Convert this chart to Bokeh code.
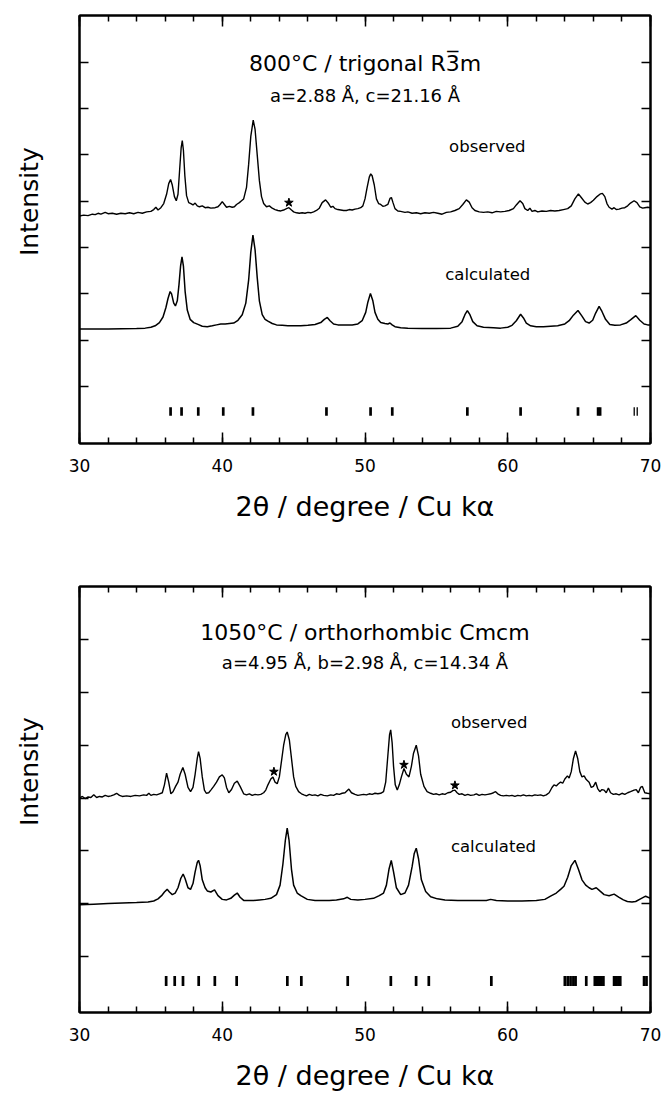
import numpy as np
from bokeh.plotting import figure
from bokeh.layouts import column
from bokeh.models import FixedTicker, LinearAxis
from bokeh.core.properties import value
from bokeh.embed import file_html
from bokeh.resources import INLINE

FONT = "DejaVu Sans"

# ---------------- data: 800 C trigonal (top panel) ----------------
top_obs_x = [30.0, 30.3, 30.6, 30.9, 31.1, 31.3, 31.5, 31.8, 32.0, 32.3, 32.6, 32.9, 33.2, 33.5, 33.8,
             34.1, 34.4, 34.7, 35.0, 35.2, 35.35, 35.5, 35.7, 35.9, 36.1, 36.25, 36.38, 36.5, 36.65,
             36.78, 36.9, 37.02, 37.12, 37.2, 37.28, 37.38, 37.5, 37.65, 37.8, 37.95, 38.1, 38.25, 38.4,
             38.6, 38.8, 39.0, 39.2, 39.5, 39.7, 39.85, 40.0, 40.15, 40.3, 40.5, 40.7, 40.85, 41.0, 41.2,
             41.35, 41.5, 41.7, 41.85, 42.0, 42.17, 42.3, 42.45, 42.6, 42.75, 42.9, 43.1, 43.3, 43.5,
             43.7, 43.9, 44.1, 44.3, 44.5, 44.67, 44.85, 45.0, 45.2, 45.4, 45.6, 45.8, 46.0, 46.2, 46.4,
             46.6, 46.8, 47.0, 47.24, 47.45, 47.6, 47.75, 47.9, 48.1, 48.3, 48.5, 48.7, 48.9, 49.1, 49.3,
             49.5, 49.7, 49.85, 50.0, 50.15, 50.3, 50.4, 50.5, 50.65, 50.8, 50.95, 51.1, 51.25, 51.4,
             51.6, 51.75, 51.85, 51.95, 52.1, 52.3, 52.5, 52.8, 53.0, 53.3, 53.6, 53.9, 54.2, 54.5, 54.8,
             55.1, 55.4, 55.7, 56.0, 56.3, 56.6, 56.85, 57.1, 57.3, 57.5, 57.7, 58.0, 58.3, 58.6, 58.9,
             59.2, 59.5, 59.8, 60.1, 60.4, 60.6, 60.86, 61.05, 61.2, 61.4, 61.55, 61.7, 61.9, 62.1, 62.4,
             62.7, 63.0, 63.3, 63.6, 63.9, 64.2, 64.45, 64.7, 64.95, 65.15, 65.4, 65.6, 65.8, 66.0, 66.25,
             66.5, 66.63, 66.8, 66.95, 67.1, 67.3, 67.45, 67.6, 67.8, 68.0, 68.2, 68.4, 68.6, 68.85, 69.05,
             69.25, 69.45, 69.6, 69.8, 70.0]
top_obs_y = [4.68, 4.70, 4.69, 4.72, 4.71, 4.74, 4.72, 4.76, 4.73, 4.74, 4.72, 4.74, 4.73, 4.75, 4.73,
             4.76, 4.74, 4.77, 4.78, 4.82, 4.87, 4.81, 4.86, 4.95, 5.15, 5.38, 5.47, 5.35, 5.10,
             5.01, 5.15, 5.70, 6.15, 6.31, 6.10, 5.55, 5.12, 4.97, 4.95, 4.92, 4.96, 4.90, 4.88,
             4.90, 4.86, 4.87, 4.85, 4.86, 4.88, 4.93, 4.99, 4.93, 4.87, 4.89, 4.87, 4.88, 4.93, 4.97,
             5.01, 5.05, 5.30, 5.80, 6.40, 6.75, 6.55, 6.00, 5.45, 5.10, 4.95, 4.88, 4.90, 4.85,
             4.82, 4.80, 4.79, 4.81, 4.84, 4.86, 4.81, 4.77, 4.75, 4.74, 4.75, 4.74, 4.76, 4.75, 4.77,
             4.80, 4.85, 4.97, 5.03, 4.95, 4.87, 4.89, 4.84, 4.82, 4.81, 4.80, 4.80, 4.82, 4.81, 4.83,
             4.84, 4.86, 4.90, 5.05, 5.30, 5.52, 5.59, 5.55, 5.35, 5.05, 4.95, 4.93, 4.89, 4.90,
             4.93, 5.06, 5.08, 4.98, 4.84, 4.79, 4.78, 4.76, 4.77, 4.74, 4.75, 4.73, 4.75, 4.74, 4.76,
             4.74, 4.72, 4.76, 4.77, 4.80, 4.84, 4.93, 5.03, 4.98, 4.86, 4.80, 4.77, 4.76, 4.77, 4.75,
             4.78, 4.77, 4.78, 4.80, 4.84, 4.92, 5.01, 4.95, 4.84, 4.80, 4.85, 4.78, 4.80, 4.77, 4.79,
             4.78, 4.80, 4.79, 4.80, 4.82, 4.84, 4.90, 5.05, 5.16, 5.08, 4.98, 4.94, 4.97, 5.02, 5.10,
             5.16, 5.17, 5.10, 4.95, 4.87, 4.83, 4.86, 4.82, 4.83, 4.85, 4.86, 4.90, 4.96, 5.01, 4.97,
             4.88, 4.85, 4.86, 4.87, 4.86]

top_calc_x = [30.0, 31.0, 32.0, 33.0, 34.0, 34.6, 35.0, 35.3, 35.6, 35.85, 36.05, 36.2, 36.35, 36.45,
              36.6, 36.72, 36.85, 36.97, 37.08, 37.18, 37.28, 37.4, 37.55, 37.75, 38.0, 38.3, 38.6,
              38.95, 39.3, 39.6, 39.9, 40.2, 40.5, 40.8, 41.1, 41.4, 41.65, 41.85, 42.0, 42.15, 42.3,
              42.45, 42.6, 42.8, 43.0, 43.2, 43.5, 43.8, 44.2, 44.6, 45.0, 45.5, 46.0, 46.5, 46.9,
              47.15, 47.36, 47.55, 47.8, 48.1, 48.6, 49.1, 49.5, 49.8, 50.05, 50.2, 50.38, 50.55, 50.7,
              50.9, 51.1, 51.4, 51.6, 51.75, 51.9, 52.1, 52.5, 53.0, 54.0, 55.0, 56.0, 56.5, 56.8, 57.0,
              57.17, 57.35, 57.55, 57.85, 58.3, 59.0, 59.5, 60.0, 60.3, 60.6, 60.9, 61.1, 61.3, 61.6,
              62.0, 62.5, 63.0, 63.5, 64.0, 64.3, 64.6, 64.92, 65.2, 65.45, 65.7, 65.95, 66.15, 66.4,
              66.6, 66.85, 67.15, 67.5, 67.9, 68.3, 68.6, 68.97, 69.25, 69.55, 69.8, 70.0]
top_calc_y = [2.24, 2.24, 2.24, 2.245, 2.25, 2.26, 2.28, 2.31, 2.38, 2.50, 2.70, 2.90, 3.05, 3.00,
              2.80, 2.74, 2.85, 3.20, 3.60, 3.80, 3.60, 3.05, 2.65, 2.45, 2.38, 2.34, 2.30,
              2.29, 2.31, 2.33, 2.35, 2.35, 2.36, 2.37, 2.43, 2.55, 2.80, 3.30, 3.90, 4.27, 3.95,
              3.35, 2.85, 2.55, 2.45, 2.41, 2.36, 2.33, 2.32, 2.31, 2.31, 2.31, 2.32, 2.34, 2.38,
              2.45, 2.49, 2.42, 2.35, 2.33, 2.33, 2.33, 2.35, 2.42, 2.60, 2.82, 3.01, 2.85, 2.60,
              2.45, 2.38, 2.36, 2.35, 2.37, 2.33, 2.29, 2.27, 2.26, 2.25, 2.25, 2.26, 2.30, 2.40, 2.55,
              2.64, 2.55, 2.40, 2.31, 2.28, 2.27, 2.26, 2.28, 2.32, 2.42, 2.56, 2.48, 2.37, 2.31,
              2.29, 2.29, 2.30, 2.31, 2.35, 2.42, 2.54, 2.64, 2.52, 2.40, 2.37, 2.43, 2.58, 2.73,
              2.62, 2.45, 2.34, 2.32, 2.33, 2.37, 2.44, 2.53, 2.43, 2.35, 2.33, 2.33]

top_refs = [36.38, 37.15, 38.32, 40.07, 42.15, 47.3, 50.39, 51.91, 57.17, 60.9, 64.92,
            66.33, 66.47]
top_refs_thin = [68.86, 69.07]
top_star_x = [44.67]
top_star_y = [4.97]
top_titles = ["800°C / trigonal R3\u0305m", "a=2.88 Å, c=21.16 Å"]
top_curve_names = ["observed", "calculated"]

# ---------------- data: 1050 C orthorhombic (bottom panel) ----------------
bot_obs_x = [30.0, 30.2, 30.4, 30.6, 30.8, 31.0, 31.2, 31.4, 31.6, 31.8, 32.0, 32.2, 32.4, 32.6, 32.8,
             33.0, 33.3, 33.6, 33.9, 34.2, 34.5, 34.7, 34.86, 35.0, 35.2, 35.4, 35.6, 35.8, 35.95, 36.1,
             36.25, 36.4, 36.55, 36.73, 36.9, 37.05, 37.24, 37.4, 37.6, 37.78, 37.95, 38.1, 38.25, 38.34,
             38.45, 38.6, 38.75, 38.88, 39.05, 39.2, 39.4, 39.6, 39.8, 40.0, 40.15, 40.3, 40.46, 40.65,
             40.85, 41.05, 41.25, 41.5, 41.7, 41.9, 42.1, 42.3, 42.5, 42.7, 42.9, 43.05, 43.2, 43.4, 43.55,
             43.7, 43.85, 44.0, 44.15, 44.3, 44.45, 44.55, 44.7, 44.85, 45.0, 45.15, 45.35, 45.55, 45.72,
             45.9, 46.1, 46.3, 46.5, 46.7, 46.9, 47.1, 47.36, 47.6, 47.8, 48.0, 48.2, 48.4, 48.6, 48.87,
             49.05, 49.3, 49.5, 49.7, 49.9, 50.1, 50.3, 50.5, 50.7, 50.9, 51.1, 51.3, 51.45, 51.6, 51.72,
             51.8, 51.9, 52.0, 52.12, 52.26, 52.4, 52.55, 52.73, 52.9, 53.08, 53.25, 53.4, 53.59, 53.75,
             53.9, 54.13, 54.35, 54.6, 54.8, 55.0, 55.2, 55.4, 55.6, 55.8, 56.0, 56.15, 56.3, 56.45, 56.6,
             56.8, 57.0, 57.2, 57.4, 57.63, 57.8, 58.0, 58.2, 58.4, 58.6, 58.8, 59.0, 59.15, 59.3, 59.5,
             59.7, 59.9, 60.1, 60.3, 60.5, 60.7, 60.9, 61.1, 61.3, 61.5, 61.7, 61.9, 62.1, 62.3, 62.5,
             62.7, 62.9, 63.1, 63.24, 63.4, 63.55, 63.7, 63.85, 64.0, 64.18, 64.3, 64.45, 64.6, 64.75,
             64.9, 65.05, 65.2, 65.35, 65.5, 65.7, 65.85, 66.0, 66.16, 66.3, 66.45, 66.6, 66.75, 66.9,
             67.05, 67.2, 67.4, 67.6, 67.8, 68.0, 68.2, 68.4, 68.6, 68.85, 69.0, 69.15, 69.3, 69.43, 69.6,
             69.78, 70.0]
bot_obs_y = [4.00, 4.03, 3.99, 4.02, 4.01, 4.06, 4.01, 4.03, 4.02, 4.05, 4.03, 4.04, 4.06, 4.09, 4.05,
             4.03, 4.04, 4.03, 4.05, 4.04, 4.06, 4.05, 4.09, 4.05, 4.07, 4.06, 4.08, 4.10, 4.25, 4.47,
             4.30, 4.08, 4.12, 4.22, 4.30, 4.45, 4.58, 4.45, 4.20, 4.12, 4.20, 4.45, 4.75, 4.88,
             4.75, 4.40, 4.15, 4.09, 4.10, 4.15, 4.22, 4.30, 4.40, 4.44, 4.38, 4.20, 4.10, 4.16,
             4.28, 4.32, 4.22, 4.08, 4.06, 4.08, 4.05, 4.07, 4.06, 4.07, 4.10, 4.15, 4.25, 4.36, 4.40,
             4.30, 4.27, 4.40, 4.70, 5.00, 5.20, 5.25, 5.10, 4.75, 4.40, 4.22, 4.12, 4.08, 4.06,
             4.04, 4.07, 4.05, 4.06, 4.04, 4.07, 4.05, 4.04, 4.06, 4.05, 4.08, 4.07, 4.09, 4.10, 4.17,
             4.10, 4.07, 4.05, 4.06, 4.07, 4.06, 4.08, 4.07, 4.09, 4.08, 4.09, 4.12, 4.30, 4.80, 5.20,
             5.29, 5.05, 4.60, 4.25, 4.15, 4.25, 4.40, 4.56, 4.45, 4.40, 4.60, 4.85, 5.00, 4.80,
             4.45, 4.22, 4.12, 4.09, 4.07, 4.08, 4.06, 4.08, 4.07, 4.10, 4.11, 4.14, 4.15, 4.10, 4.07,
             4.08, 4.05, 4.07, 4.05, 4.06, 4.08, 4.05, 4.07, 4.06, 4.07, 4.08, 4.10, 4.12, 4.08, 4.05,
             4.04, 4.05, 4.04, 4.05, 4.03, 4.05, 4.04, 4.06, 4.04, 4.05, 4.04, 4.06, 4.05, 4.06, 4.04,
             4.06, 4.10, 4.20, 4.25, 4.23, 4.27, 4.30, 4.28, 4.36, 4.42, 4.38, 4.50, 4.75, 4.89,
             4.75, 4.50, 4.40, 4.42, 4.35, 4.30, 4.20, 4.22, 4.30, 4.18, 4.12, 4.16, 4.15, 4.10,
             4.19, 4.10, 4.07, 4.08, 4.06, 4.09, 4.07, 4.10, 4.12, 4.15, 4.16, 4.10, 4.20, 4.22, 4.10,
             4.09, 4.08]

bot_calc_x = [30.0, 31.0, 32.0, 33.0, 34.0, 34.8, 35.2, 35.5, 35.75, 35.95, 36.14, 36.3, 36.5, 36.7,
              36.9, 37.1, 37.26, 37.4, 37.6, 37.78, 37.95, 38.1, 38.25, 38.34, 38.45, 38.6, 38.8, 38.95,
              39.2, 39.46, 39.7, 40.0, 40.3, 40.6, 40.85, 41.05, 41.25, 41.5, 41.8, 42.2, 42.6, 43.0,
              43.4, 43.8, 44.05, 44.25, 44.42, 44.55, 44.68, 44.85, 45.0, 45.25, 45.5, 45.96, 46.5,
              47.0, 47.5, 48.0, 48.5, 48.76, 49.0, 49.5, 50.0, 50.6, 51.0, 51.3, 51.5, 51.68, 51.84,
              52.0, 52.2, 52.5, 52.8, 53.05, 53.3, 53.45, 53.59, 53.75, 53.95, 54.25, 54.6, 55.07,
              55.6, 56.5, 57.5, 58.5, 58.8, 59.2, 60.0, 61.0, 62.0, 62.6, 63.0, 63.4, 63.7, 63.94, 64.2,
              64.45, 64.71, 64.95, 65.2, 65.46, 65.7, 65.9, 66.2, 66.45, 66.75, 67.1, 67.45, 67.8,
              68.1, 68.38, 68.7, 68.96, 69.3, 69.66, 70.0]
bot_calc_y = [1.98, 1.99, 2.00, 2.01, 2.02, 2.03, 2.05, 2.09, 2.15, 2.22, 2.27, 2.22, 2.17, 2.20,
              2.30, 2.48, 2.56, 2.47, 2.30, 2.27, 2.38, 2.60, 2.78, 2.82, 2.72, 2.45, 2.30, 2.24,
              2.22, 2.26, 2.15, 2.08, 2.07, 2.10, 2.16, 2.20, 2.12, 2.06, 2.06, 2.06, 2.07, 2.08,
              2.10, 2.17, 2.35, 2.75, 3.20, 3.43, 3.20, 2.65, 2.35, 2.20, 2.15, 2.08, 2.06,
              2.06, 2.06, 2.07, 2.09, 2.12, 2.08, 2.07, 2.08, 2.10, 2.15, 2.20, 2.35, 2.65, 2.82,
              2.60, 2.30, 2.17, 2.20, 2.35, 2.70, 2.95, 3.05, 2.85, 2.45, 2.23, 2.13, 2.09,
              2.07, 2.06, 2.06, 2.06, 2.08, 2.06, 2.05, 2.05, 2.06, 2.08, 2.14, 2.20, 2.27, 2.33, 2.50,
              2.72, 2.82, 2.65, 2.45, 2.35, 2.30, 2.27, 2.30, 2.24, 2.17, 2.15, 2.18, 2.12,
              2.07, 2.04, 2.03, 2.04, 2.09, 2.14, 2.10]

bot_refs = [36.07, 36.67, 37.25, 38.35, 39.48, 41.01, 44.56, 45.54, 48.79, 51.81, 53.58, 54.47,
            58.85, 64.0, 64.2, 64.4, 64.6, 64.75, 65.5, 66.1, 66.25, 66.4, 66.55, 66.7,
            67.45, 67.6, 67.75, 67.88, 69.55, 69.72]
bot_refs_thin = []
bot_star_x = [43.62, 52.73, 56.3]
bot_star_y = [4.50, 4.63, 4.24]
bot_titles = ["1050°C / orthorhombic Cmcm", "a=4.95 Å, b=2.98 Å, c=14.34 Å"]
bot_curve_names = ["observed", "calculated"]

x_major = [30, 40, 50, 60, 70]
x_minor = list(range(30, 71, 2))
x_title = "2θ / degree / Cu kα"
y_title = "Intensity"

# no-break spaces in front of the rotated label lift it above the frame centre,
# as in the reference
Y_LABEL_PAD = "\u00a0" * 7


def style_axis(ax, tick_in, minor_in, labels=False):
    ax.axis_line_width = 2
    ax.axis_line_color = "black"
    ax.major_tick_in = tick_in
    ax.major_tick_out = 0
    ax.minor_tick_in = minor_in
    ax.minor_tick_out = 0
    ax.major_tick_line_width = 1.5
    ax.minor_tick_line_width = 1.5
    ax.major_tick_line_color = "black"
    ax.minor_tick_line_color = "black"
    if not labels:
        ax.major_label_text_color = None
        ax.major_label_text_font_size = "1px"
        ax.major_label_standoff = 0


def panel(height, btop, bbottom, yr, yticks, obs_x, obs_y, calc_x, calc_y, refs, refs_thin,
          ref_lo, ref_hi, sx, sy, titles, title_y, sub_y, names, name_x, name_y):
    p = figure(width=662, height=height, x_range=(30, 70), y_range=yr,
               output_backend="svg", toolbar_location=None,
               min_border_left=79, min_border_right=12,
               min_border_top=btop, min_border_bottom=bbottom)
    p.grid.visible = False
    p.outline_line_color = "black"
    p.outline_line_width = 2
    p.background_fill_color = "white"
    p.border_fill_color = "white"

    xt = FixedTicker(ticks=x_major, minor_ticks=x_minor)
    yt = FixedTicker(ticks=yticks, minor_ticks=[])
    p.xaxis.ticker = xt
    p.yaxis.ticker = yt
    style_axis(p.xaxis[0], 11, 6, labels=True)
    style_axis(p.yaxis[0], 9, 0)
    p.xaxis.major_label_text_font = FONT
    p.xaxis.major_label_text_font_size = "17px"
    p.xaxis.major_label_text_color = "black"
    p.xaxis.major_label_standoff = 15
    p.xaxis.axis_label = x_title
    p.xaxis.axis_label_text_font = FONT
    p.xaxis.axis_label_text_font_size = "27px"
    p.xaxis.axis_label_text_font_style = "normal"
    p.xaxis.axis_label_text_color = "black"
    p.xaxis.axis_label_standoff = 16

    p.yaxis.axis_label = Y_LABEL_PAD + y_title
    p.yaxis.axis_label_text_font = FONT
    p.yaxis.axis_label_text_font_size = "25px"
    p.yaxis.axis_label_text_font_style = "normal"
    p.yaxis.axis_label_text_color = "black"
    p.yaxis.axis_label_standoff = 36

    top = LinearAxis(ticker=xt)
    style_axis(top, 11, 6)
    p.add_layout(top, "above")
    right = LinearAxis(ticker=yt)
    style_axis(right, 9, 0)
    p.add_layout(right, "right")

    p.line(obs_x, obs_y, line_color="black", line_width=1.4)
    p.line(calc_x, calc_y, line_color="black", line_width=1.5)
    p.segment(x0=refs, y0=[ref_lo] * len(refs), x1=refs, y1=[ref_hi] * len(refs),
              line_color="black", line_width=2.7)
    if refs_thin:
        p.segment(x0=refs_thin, y0=[ref_lo] * len(refs_thin), x1=refs_thin,
                  y1=[ref_hi] * len(refs_thin), line_color="black", line_width=1.3)
    p.scatter(sx, sy, marker="star", size=9, color="black")

    p.text(x=[50], y=[title_y], text=[titles[0]], text_font=value(FONT),
           text_font_size="22px", text_align="center", text_baseline="middle", text_color="black")
    p.text(x=[50], y=[sub_y], text=[titles[1]], text_font=value(FONT),
           text_font_size="18px", text_align="center", text_baseline="middle", text_color="black")
    p.text(x=name_x, y=name_y, text=names, text_font=value(FONT),
           text_font_size="16.5px", text_align="center", text_baseline="middle", text_color="black")
    return p


p1 = panel(546, 15, 103, (-0.231, 9.01), [1, 2, 3, 4, 5, 6, 7, 8],
           top_obs_x, top_obs_y, top_calc_x, top_calc_y, top_refs, top_refs_thin, 0.37, 0.55,
           top_star_x, top_star_y, top_titles, 7.98, 7.28, top_curve_names,
           [58.57, 58.6], [6.18, 3.41])
p2 = panel(547, 40, 80, (-0.063, 8.007), [1, 2, 3, 4, 5, 6, 7],
           bot_obs_x, bot_obs_y, bot_calc_x, bot_calc_y, bot_refs, bot_refs_thin, 0.44, 0.63,
           bot_star_x, bot_star_y, bot_titles, 7.14, 6.57, bot_curve_names,
           [58.7, 59.0], [5.43, 3.09])

layout = column(p1, p2, spacing=0)
open("out.html", "w").write(file_html(layout, INLINE))
